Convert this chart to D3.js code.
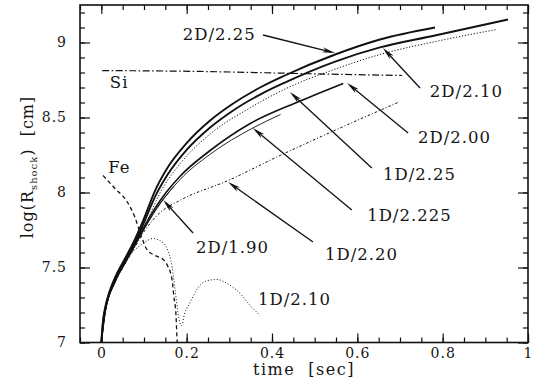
<!DOCTYPE html>
<html>
<head>
<meta charset="utf-8">
<script src="https://cdn.jsdelivr.net/npm/d3@7"></script>
<style>
  body { margin: 0; background: #fff; }
  svg text { font-family: 'DejaVu Serif', serif; fill: #151515; }
</style>
</head>
<body>
<script>
'use strict';

// tick values and labels
var xTicks = [0, 0.2, 0.4, 0.6, 0.8, 1];
var xTickLabels = ['0', '0.2', '0.4', '0.6', '0.8', '1'];
var yTicks = [7, 7.5, 8, 8.5, 9];
var yTickLabels = ['7', '7.5', '8', '8.5', '9'];

// shock trajectories, [time (s), log R (cm)]
var shock2D225 = [[0, 7], [0.004, 7.147], [0.009, 7.233], [0.02, 7.347], [0.032, 7.433], [0.053, 7.547],
  [0.074, 7.66], [0.098, 7.813], [0.126, 8.013], [0.154, 8.16], [0.201, 8.333], [0.255, 8.48],
  [0.309, 8.593], [0.372, 8.70], [0.43, 8.78], [0.548, 8.92], [0.653, 9.02], [0.782, 9.10]];
var shock2D210 = [[0, 7], [0.004, 7.133], [0.009, 7.22], [0.02, 7.333], [0.032, 7.42], [0.053, 7.533],
  [0.074, 7.64], [0.098, 7.787], [0.126, 7.973], [0.154, 8.113], [0.201, 8.287], [0.255, 8.433],
  [0.309, 8.547], [0.372, 8.653], [0.43, 8.733], [0.548, 8.873], [0.653, 8.967], [0.782, 9.047], [0.953, 9.153]];
var shock2D200 = [[0, 7], [0.009, 7.207], [0.032, 7.407], [0.053, 7.52], [0.074, 7.627], [0.102, 7.78],
  [0.138, 7.947], [0.184, 8.107], [0.255, 8.28], [0.349, 8.46], [0.466, 8.61], [0.567, 8.727]];
var shock2D190 = [[0, 7], [0.009, 7.2], [0.032, 7.40], [0.053, 7.515], [0.074, 7.62], [0.102, 7.765],
  [0.138, 7.93], [0.17, 8.04]];
var shock1D250 = [[0, 7], [0.009, 7.215], [0.032, 7.415], [0.053, 7.53], [0.074, 7.65], [0.102, 7.78],
  [0.138, 8.0], [0.184, 8.19], [0.255, 8.39], [0.349, 8.565], [0.442, 8.705], [0.536, 8.81],
  [0.653, 8.92], [0.794, 9.013], [0.927, 9.087]];
var shock1D225 = [[0, 7], [0.009, 7.21], [0.032, 7.41], [0.053, 7.52], [0.074, 7.625], [0.102, 7.765],
  [0.138, 7.925], [0.184, 8.085], [0.255, 8.255], [0.355, 8.43], [0.42, 8.52]];
var shock1D220 = [[0, 7], [0.009, 7.2], [0.032, 7.40], [0.053, 7.51], [0.074, 7.613], [0.102, 7.747],
  [0.138, 7.867], [0.184, 7.947], [0.297, 8.08], [0.419, 8.247], [0.536, 8.40], [0.695, 8.60]];
var shock1D210 = [[0, 7], [0.009, 7.2], [0.032, 7.4], [0.053, 7.52], [0.074, 7.605], [0.091, 7.647],
  [0.105, 7.675], [0.121, 7.693], [0.137, 7.68], [0.154, 7.627], [0.166, 7.50], [0.173, 7.347],
  [0.18, 7.193], [0.184, 7.133], [0.188, 7.113], [0.195, 7.19], [0.208, 7.267], [0.227, 7.367],
  [0.25, 7.413], [0.271, 7.42], [0.295, 7.393], [0.325, 7.327], [0.349, 7.247], [0.372, 7.18]];

// composition interfaces
var ironShell = [[0.004, 8.113], [0.032, 8.027], [0.06, 7.94], [0.079, 7.833], [0.093, 7.713], [0.107, 7.62],
  [0.126, 7.58], [0.145, 7.553], [0.156, 7.507], [0.166, 7.413], [0.17, 7.307], [0.175, 7.18],
  [0.177, 7.047], [0.178, 7.0]];
var siliconShell = [[0.002, 8.813], [0.231, 8.807], [0.466, 8.793], [0.705, 8.78]];

var width = 545;
var height = 388;

var x = d3.scaleLinear().domain([-0.05, 1.0]).range([80, 528]);
var y = d3.scaleLinear().domain([7, 9.25]).range([342.5, 5]);

var series = [
  { data: siliconShell, width: 1.2, dash: '7,2.5,1.5,2.5' },
  { data: ironShell, width: 1.3, dash: '4,3' },
  { data: shock1D210, width: 1, dash: '1,2' },
  { data: shock1D220, width: 1, dash: '2.5,2,1,2' },
  { data: shock1D225, width: 0.9, dash: null },
  { data: shock1D250, width: 1, dash: '1.2,1.8' },
  { data: shock2D190, width: 0.9, dash: null },
  { data: shock2D200, width: 1.6, dash: null },
  { data: shock2D210, width: 1.9, dash: null },
  { data: shock2D225, width: 1.9, dash: null }
];

// labels: [text, t, logR] of the left end of the baseline
var labels = [
  ['2D/2.25', 0.191, 9.017], ['2D/2.10', 0.770, 8.637], ['2D/2.00', 0.742, 8.33],
  ['1D/2.25', 0.660, 8.083], ['1D/2.225', 0.623, 7.81], ['1D/2.20', 0.524, 7.55],
  ['2D/1.90', 0.222, 7.597], ['1D/2.10', 0.367, 7.25], ['Si', 0.020, 8.697], ['Fe', 0.016, 8.13]
];

// arrows: from [t, logR] to [t, logR]
var arrows = [
  [[0.379, 9.05], [0.548, 8.93]],
  [[0.747, 8.697], [0.660, 8.963]],
  [[0.719, 8.397], [0.576, 8.73]],
  [[0.634, 8.163], [0.442, 8.67]],
  [[0.587, 7.883], [0.355, 8.43]],
  [[0.496, 7.67], [0.297, 8.07]],
  [[0.215, 7.73], [0.145, 7.95]]
];

var svg = d3.select('body').append('svg')
  .attr('width', width)
  .attr('height', height);

svg.append('rect')
  .attr('width', width)
  .attr('height', height)
  .attr('fill', '#fff');

svg.append('clipPath')
  .attr('id', 'plot-clip')
  .append('rect')
  .attr('x', x(-0.05))
  .attr('y', y(9.25))
  .attr('width', x(1.0) - x(-0.05))
  .attr('height', y(7) - y(9.25));

var line = d3.line()
  .x(function(d) { return x(d[0]); })
  .y(function(d) { return y(d[1]); })
  .curve(d3.curveMonotoneX);

svg.append('g')
  .attr('clip-path', 'url(#plot-clip)')
  .selectAll('path')
  .data(series)
  .enter().append('path')
  .attr('d', function(d) { return line(d.data); })
  .attr('fill', 'none')
  .attr('stroke', '#111')
  .attr('stroke-width', function(d) { return d.width; })
  .attr('stroke-dasharray', function(d) { return d.dash; });

// ticks on all four sides, pointing inward
var xMinor = d3.range(-0.05, 1.0001, 0.05);
var yMinor = d3.range(7, 9.2501, 0.1);

function styleAxis(g) {
  g.select('.domain').remove();
  g.selectAll('.tick line').attr('stroke', '#111').attr('stroke-width', 1.2);
  g.selectAll('.tick text')
    .style('font-family', "'DejaVu Serif', serif")
    .style('font-size', '14px')
    .style('letter-spacing', '1px')
    .attr('fill', '#151515');
}

svg.append('g')
  .attr('transform', 'translate(0,' + y(7) + ')')
  .call(d3.axisBottom(x).tickValues(xMinor).tickSize(-5).tickFormat(''))
  .call(styleAxis);
svg.append('g')
  .attr('transform', 'translate(0,' + y(7) + ')')
  .call(d3.axisBottom(x).tickValues(xTicks).tickSize(-9).tickPadding(6)
    .tickFormat(function(d, i) { return xTickLabels[i]; }))
  .call(styleAxis);
svg.append('g')
  .attr('transform', 'translate(0,' + y(9.25) + ')')
  .call(d3.axisTop(x).tickValues(xMinor).tickSize(-5).tickFormat(''))
  .call(styleAxis);
svg.append('g')
  .attr('transform', 'translate(0,' + y(9.25) + ')')
  .call(d3.axisTop(x).tickValues(xTicks).tickSize(-9).tickFormat(''))
  .call(styleAxis);

svg.append('g')
  .attr('transform', 'translate(' + x(-0.05) + ',0)')
  .call(d3.axisLeft(y).tickValues(yMinor).tickSize(-5).tickFormat(''))
  .call(styleAxis);
svg.append('g')
  .attr('transform', 'translate(' + x(-0.05) + ',0)')
  .call(d3.axisLeft(y).tickValues(yTicks).tickSize(-10).tickPadding(13)
    .tickFormat(function(d, i) { return yTickLabels[i]; }))
  .call(styleAxis);
svg.append('g')
  .attr('transform', 'translate(' + x(1.0) + ',0)')
  .call(d3.axisRight(y).tickValues(yMinor).tickSize(-5).tickFormat(''))
  .call(styleAxis);
svg.append('g')
  .attr('transform', 'translate(' + x(1.0) + ',0)')
  .call(d3.axisRight(y).tickValues(yTicks).tickSize(-10).tickFormat(''))
  .call(styleAxis);

svg.append('rect')
  .attr('x', x(-0.05))
  .attr('y', y(9.25))
  .attr('width', x(1.0) - x(-0.05))
  .attr('height', y(7) - y(9.25))
  .attr('fill', 'none')
  .attr('stroke', '#111')
  .attr('stroke-width', 1.6);

// annotation arrows with slim heads
var arrowG = svg.append('g');
arrows.forEach(function(a) {
  var x0 = x(a[0][0]), y0 = y(a[0][1]);
  var x1 = x(a[1][0]), y1 = y(a[1][1]);
  var dx = x1 - x0, dy = y1 - y0;
  var len = Math.sqrt(dx * dx + dy * dy);
  var ux = dx / len, uy = dy / len;
  var hl = 13, hw = 2.6;
  arrowG.append('line')
    .attr('x1', x0).attr('y1', y0)
    .attr('x2', x1 - ux * 4).attr('y2', y1 - uy * 4)
    .attr('stroke', '#111')
    .attr('stroke-width', 1.3);
  arrowG.append('path')
    .attr('d', 'M' + x1 + ',' + y1 +
      'L' + (x1 - ux * hl - uy * hw) + ',' + (y1 - uy * hl + ux * hw) +
      'L' + (x1 - ux * hl * 0.7) + ',' + (y1 - uy * hl * 0.7) +
      'L' + (x1 - ux * hl + uy * hw) + ',' + (y1 - uy * hl - ux * hw) + 'Z')
    .attr('fill', '#111');
});

svg.append('g')
  .selectAll('text')
  .data(labels)
  .enter().append('text')
  .attr('x', function(d) { return x(d[1]); })
  .attr('y', function(d) { return y(d[2]); })
  .style('font-size', '16.5px')
  .style('letter-spacing', '1px')
  .text(function(d) { return d[0]; });

// axis titles
svg.append('text')
  .attr('x', x(0.475))
  .attr('y', 375)
  .attr('text-anchor', 'middle')
  .style('font-size', '16px')
  .style('letter-spacing', '1.5px')
  .style('white-space', 'pre')
  .text('time  [sec]');

var yTitle = svg.append('text')
  .attr('transform', 'translate(33,' + y(8.17) + ') rotate(-90)')
  .attr('text-anchor', 'middle')
  .style('font-size', '16px')
  .style('letter-spacing', '1px')
  .style('white-space', 'pre');
yTitle.append('tspan').text('log(R');
yTitle.append('tspan').attr('dy', 4).style('font-size', '10px').text('shock');
yTitle.append('tspan').attr('dy', -4).text(')  [cm]');
</script>
</body>
</html>
